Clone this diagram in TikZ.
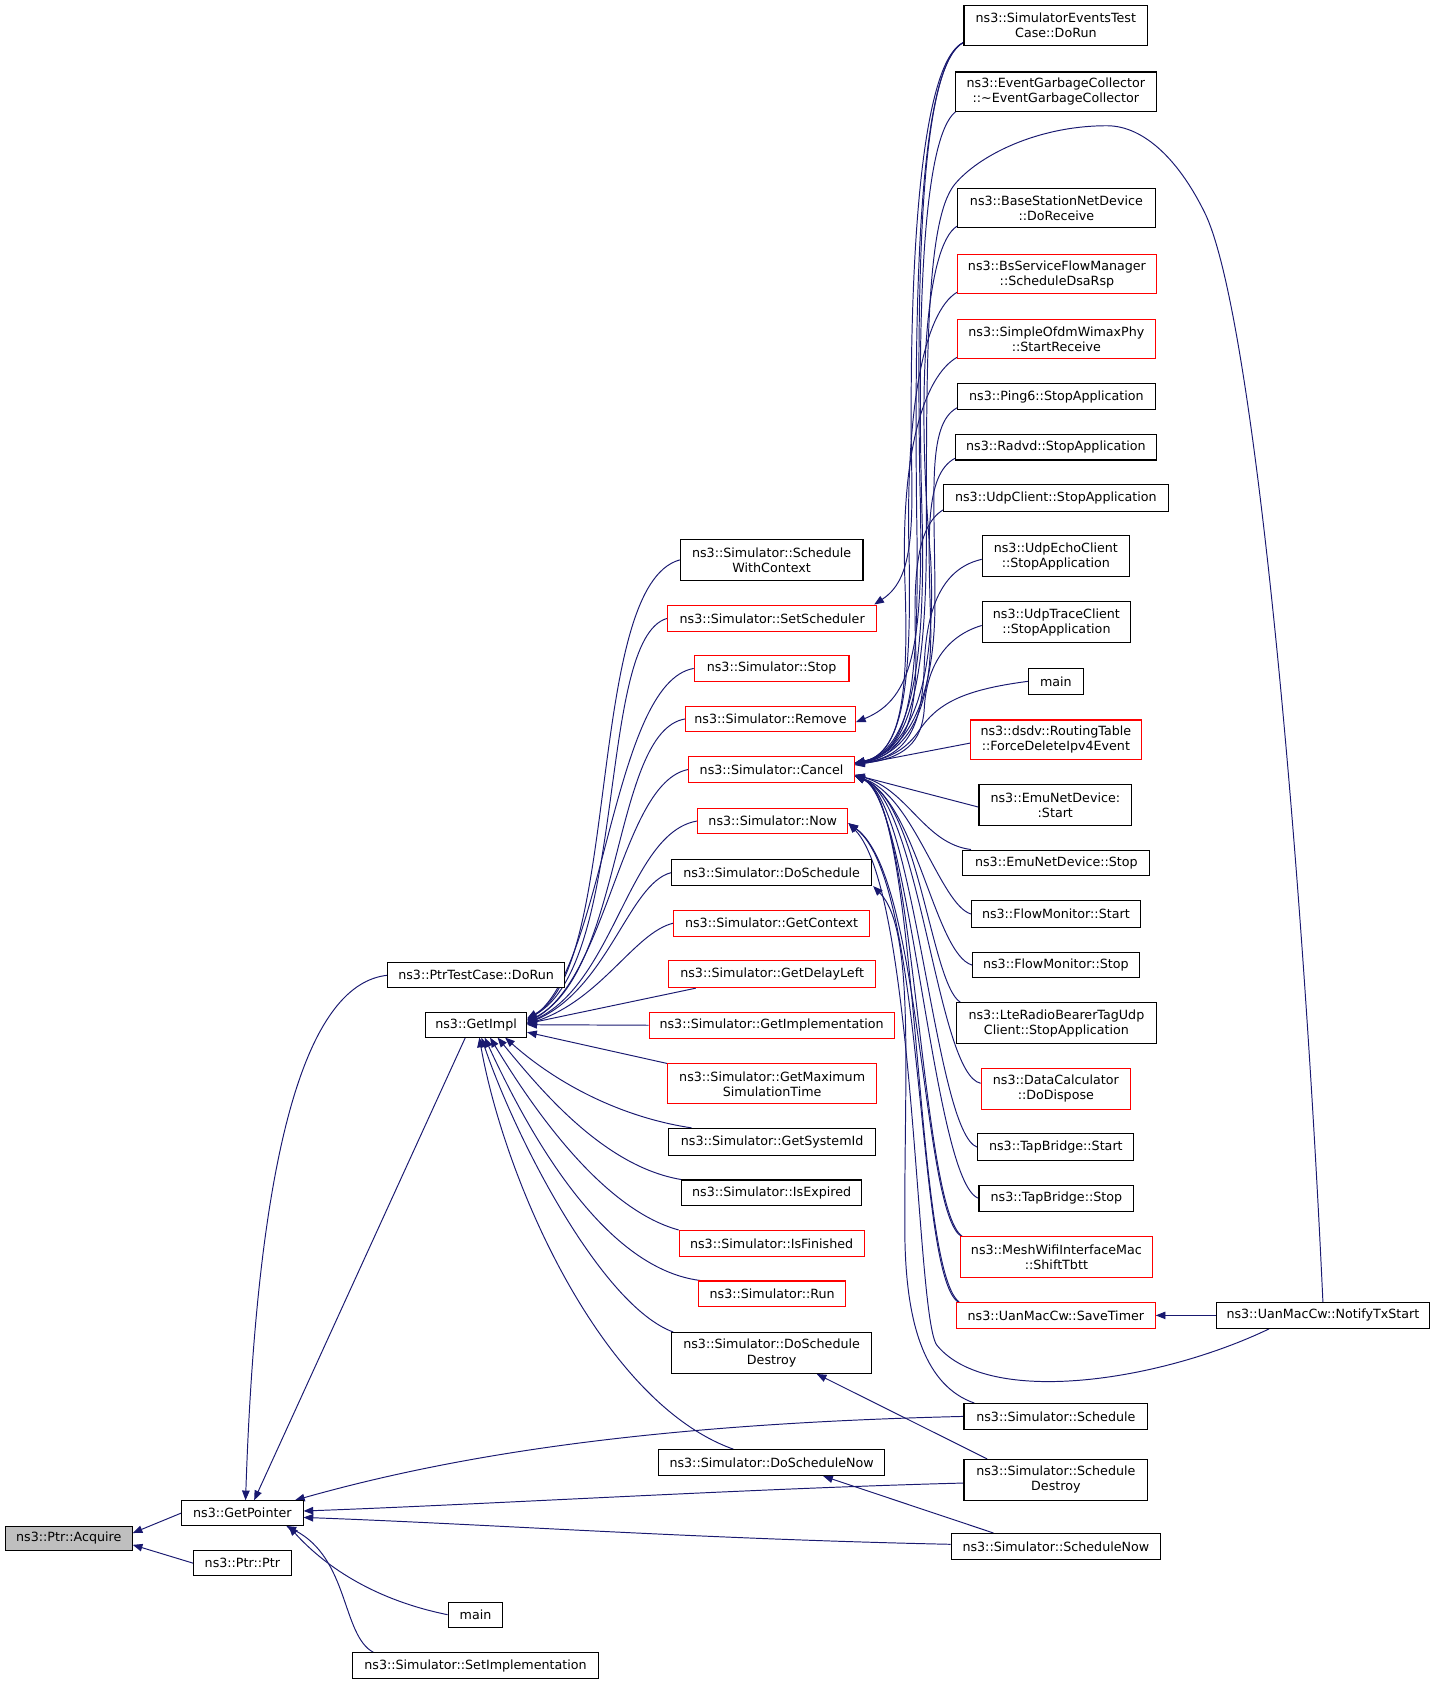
\documentclass[tikz,border=0pt]{standalone}
\usepackage{fontspec}
\setmainfont{DejaVu Sans}
\usetikzlibrary{arrows.meta,backgrounds}
\definecolor{edgeblue}{HTML}{191970}
\definecolor{boxred}{HTML}{FF0000}
\definecolor{accgray}{HTML}{BFBFBF}
\begin{document}
\begin{tikzpicture}[x=1pt,y=-1pt,
  box/.style={draw=black, line width=1pt, fill=white, inner sep=0pt, align=center,
    font=\fontsize{11.8}{14}\selectfont},
  rbox/.style={box, draw=boxred},
  e/.style={draw=edgeblue, line width=0.9pt, -{Triangle[length=9pt,width=7pt]}}]
\useasboundingbox (0,0) rectangle (1335,1567);

% ---- left
\node[box, fill=accgray, minimum width=118pt, minimum height=23pt] (acq) at (64,1431.5) {ns3::Ptr::Acquire};
\node[box, minimum width=113pt, minimum height=23pt] (gp) at (225.5,1408) {ns3::GetPointer};
\node[box, minimum width=91pt, minimum height=23pt] (ptr) at (225.5,1454.5) {ns3::Ptr::Ptr};
\node[box, minimum width=51pt, minimum height=23pt] (mainb) at (442.5,1502.5) {main};
\node[box, minimum width=229pt, minimum height=24pt] (setimpl) at (442.5,1550) {ns3::Simulator::SetImplementation};
\node[box, minimum width=164pt, minimum height=23pt] (ptrtc) at (443,907.5) {ns3::PtrTestCase::DoRun};
\node[box, minimum width=94pt, minimum height=23pt] (gi) at (443,953.5) {ns3::GetImpl};

% ---- middle
\node[box, minimum width=170pt, minimum height=38pt] (swc) at (718,521) {ns3::Simulator::Schedule\\WithContext};
\node[rbox, minimum width=195pt, minimum height=25pt] (setsch) at (718.5,575.5) {ns3::Simulator::SetScheduler};
\node[rbox, minimum width=144pt, minimum height=24pt] (stop) at (718,622) {ns3::Simulator::Stop};
\node[rbox, minimum width=158pt, minimum height=24pt] (remove) at (717,669) {ns3::Simulator::Remove};
\node[rbox, minimum width=154pt, minimum height=24pt] (cancel) at (718,716) {ns3::Simulator::Cancel};
\node[rbox, minimum width=140pt, minimum height=24pt] (now) at (719,764) {ns3::Simulator::Now};
\node[box, minimum width=186pt, minimum height=24pt] (dosch) at (718,812) {ns3::Simulator::DoSchedule};
\node[rbox, minimum width=182pt, minimum height=24pt] (getctx) at (718,859) {ns3::Simulator::GetContext};
\node[rbox, minimum width=193pt, minimum height=25pt] (getdl) at (718.5,906.5) {ns3::Simulator::GetDelayLeft};
\node[rbox, minimum width=228pt, minimum height=24pt] (getimp) at (718,954) {ns3::Simulator::GetImplementation};
\node[rbox, minimum width=195pt, minimum height=37pt] (getmax) at (718.5,1008.5) {ns3::Simulator::GetMaximum\\SimulationTime};
\node[box, minimum width=193pt, minimum height=25pt] (getsys) at (718.5,1062.5) {ns3::Simulator::GetSystemId};
\node[box, minimum width=168pt, minimum height=24pt] (isexp) at (718,1110) {ns3::Simulator::IsExpired};
\node[rbox, minimum width=172pt, minimum height=24pt] (isfin) at (718,1157) {ns3::Simulator::IsFinished};
\node[rbox, minimum width=137pt, minimum height=24pt] (run) at (718.5,1204) {ns3::Simulator::Run};
\node[box, minimum width=186pt, minimum height=38pt] (dosd) at (718,1259) {ns3::Simulator::DoSchedule\\Destroy};
\node[box, minimum width=210pt, minimum height=24pt] (dosn) at (718,1361) {ns3::Simulator::DoScheduleNow};

% ---- right
\node[box, minimum width=171pt, minimum height=37pt] (setc) at (982.5,23.5) {ns3::SimulatorEventsTest\\Case::DoRun};
\node[box, minimum width=187pt, minimum height=37pt] (egc) at (982.5,85.5) {ns3::EventGarbageCollector\\::\textasciitilde EventGarbageCollector};
\node[box, minimum width=184pt, minimum height=37pt] (bsnd) at (983,193.5) {ns3::BaseStationNetDevice\\::DoReceive};
\node[rbox, minimum width=185pt, minimum height=37pt] (bsfm) at (983.5,255) {ns3::BsServiceFlowManager\\::ScheduleDsaRsp};
\node[rbox, minimum width=184pt, minimum height=37pt] (sow) at (983,315.5) {ns3::SimpleOfdmWimaxPhy\\::StartReceive};
\node[box, minimum width=184pt, minimum height=24pt] (ping) at (983,369) {ns3::Ping6::StopApplication};
\node[box, minimum width=187pt, minimum height=24pt] (radvd) at (982.5,416) {ns3::Radvd::StopApplication};
\node[box, minimum width=209pt, minimum height=25pt] (udpc) at (982.5,463.5) {ns3::UdpClient::StopApplication};
\node[box, minimum width=137pt, minimum height=38pt] (udpe) at (982.5,517.5) {ns3::UdpEchoClient\\::StopApplication};
\node[box, minimum width=138pt, minimum height=38pt] (udpt) at (983,579) {ns3::UdpTraceClient\\::StopApplication};
\node[box, minimum width=51pt, minimum height=24pt] (mainr) at (982.5,634) {main};
\node[rbox, minimum width=159pt, minimum height=37pt] (dsdv) at (982.5,688.5) {ns3::dsdv::RoutingTable\\::ForceDeleteIpv4Event};
\node[box, minimum width=142pt, minimum height=38pt] (emus) at (982,749) {ns3::EmuNetDevice:\\:Start};
\node[box, minimum width=174pt, minimum height=24pt] (emust) at (983,803) {ns3::EmuNetDevice::Stop};
\node[box, minimum width=157pt, minimum height=25pt] (fms) at (982.5,850.5) {ns3::FlowMonitor::Start};
\node[box, minimum width=155pt, minimum height=24pt] (fmst) at (982.5,898) {ns3::FlowMonitor::Stop};
\node[box, minimum width=186pt, minimum height=38pt] (lte) at (983,952) {ns3::LteRadioBearerTagUdp\\Client::StopApplication};
\node[rbox, minimum width=139pt, minimum height=38pt] (dc) at (982.5,1013) {ns3::DataCalculator\\::DoDispose};
\node[box, minimum width=145pt, minimum height=25pt] (tbs) at (982.5,1067.5) {ns3::TapBridge::Start};
\node[box, minimum width=144pt, minimum height=24pt] (tbst) at (983,1115) {ns3::TapBridge::Stop};
\node[rbox, minimum width=178pt, minimum height=38pt] (mesh) at (983,1170) {ns3::MeshWifiInterfaceMac\\::ShiftTbtt};
\node[rbox, minimum width=185pt, minimum height=24pt] (save) at (982.5,1224) {ns3::UanMacCw::SaveTimer};
\node[box, minimum width=171pt, minimum height=24pt] (sch) at (982.5,1318) {ns3::Simulator::Schedule};
\node[box, minimum width=171pt, minimum height=38pt] (schd) at (982.5,1377) {ns3::Simulator::Schedule\\Destroy};
\node[box, minimum width=195pt, minimum height=24pt] (schn) at (982.5,1439) {ns3::Simulator::ScheduleNow};
\node[box, minimum width=198pt, minimum height=24pt] (ntx) at (1231,1224) {ns3::UanMacCw::NotifyTxStart};

\begin{pgfonlayer}{background}
% ---- into Acquire
\draw[e] (gp.west) -- ([yshift=5pt]acq.east);
\draw[e] (ptr.west) -- ([yshift=-6pt]acq.east);
% ---- into GetPointer
\draw[e] (ptrtc.west) .. controls (290,915) and (240,1050) .. ([xshift=3pt]gp.north);
\draw[e] ([xshift=-10pt]gi.south) -- ([xshift=11pt]gp.north);
\draw[e] (mainb.west) .. controls (345,1488) and (300,1455) .. ([xshift=-14pt]gp.south east);
\draw[e] ([xshift=20pt]setimpl.north west) .. controls (318,1522) and (325,1450) .. ([xshift=-16pt]gp.south east);
\draw[e] (sch.west) .. controls (600,1325) and (420,1355) .. ([xshift=-8pt]gp.north east);
\draw[e] ([yshift=-3pt]schd.west) .. controls (700,1385) and (450,1400) .. ([yshift=2pt]gp.east);
\draw[e] ([yshift=2pt]schn.west) .. controls (650,1432) and (450,1418) .. ([yshift=-4pt]gp.east);
% ---- into GetImpl (from the middle column)
\draw[e] (swc.west) .. controls (545,545) and (578,900) .. ([yshift=6pt]gi.east);
\draw[e] (setsch.west) .. controls (555,595) and (585,895) .. ([yshift=5pt]gi.east);
\draw[e] (stop.west) .. controls (570,635) and (562,900) .. ([yshift=4pt]gi.east);
\draw[e] (remove.west) .. controls (570,680) and (580,905) .. ([yshift=3pt]gi.east);
\draw[e] (cancel.west) .. controls (578,728) and (566,910) .. ([yshift=2pt]gi.east);
\draw[e] (now.west) .. controls (585,775) and (572,915) .. ([yshift=1.5pt]gi.east);
\draw[e] (dosch.west) .. controls (585,822) and (566,920) .. ([yshift=1pt]gi.east);
\draw[e] (getctx.west) .. controls (590,868) and (560,930) .. ([yshift=0.5pt]gi.east);
\draw[e] ([xshift=26pt]getdl.south west) -- ([yshift=1pt]gi.east);
\draw[e] (getimp.west) -- (gi.east);
\draw[e] (getmax.north west) -- ([yshift=-7pt]gi.east);
\draw[e] ([xshift=22pt]getsys.north west) .. controls (580,1040) and (520,1010) .. ([xshift=27pt]gi.south);
\draw[e] (isexp.north west) .. controls (560,1085) and (500,1010) .. ([xshift=20pt]gi.south);
\draw[e] (isfin.north west) .. controls (560,1125) and (495,1030) .. ([xshift=13pt]gi.south);
\draw[e] ([xshift=2pt]run.north west) .. controls (560,1180) and (490,1050) .. ([xshift=8pt]gi.south);
\draw[e] ([xshift=2pt]dosd.north west) .. controls (560,1215) and (480,1060) .. ([xshift=5pt]gi.south);
\draw[e] ([xshift=70pt]dosn.north west) .. controls (560,1305) and (470,1100) .. ([xshift=3pt]gi.south);
% ---- into DoSchedule / DoScheduleDestroy / DoScheduleNow
\draw[e] ([xshift=10pt]sch.north west) .. controls (862,1290) and (843,1235) .. (842,1150)
   .. controls (841,1000) and (852,865) .. ([xshift=1pt]dosch.south east);
\draw[e] ([xshift=22pt]schd.north west) -- ([xshift=42pt]dosd.south);
\draw[e] ([xshift=-58pt]schn.north) -- ([xshift=48pt]dosn.south);
% ---- SimulatorEventsTestCase
\draw[e] ([yshift=3pt]setc.south west) .. controls (862,55) and (846,200) .. (848,420)
   .. controls (850,500) and (848,540) .. ([xshift=-3pt]setsch.north east);
\draw[e] ([yshift=3pt]setc.south west) .. controls (860,58) and (852,220) .. (856,450)
   .. controls (860,600) and (850,650) .. ([yshift=-3pt]remove.east);
\draw[e] ([yshift=3pt]setc.south west) .. controls (858,60) and (850,240) .. (853,480)
   .. controls (856,650) and (845,700) .. ([yshift=6pt]cancel.east);
% ---- into Cancel from above
\draw[e] ([xshift=3pt,yshift=2pt]egc.south west) .. controls (862,118) and (852,260) .. (858,480)
   .. controls (862,640) and (842,700) .. ([yshift=6pt]cancel.east);
\draw[e] (ntx.north) .. controls (1212,800) and (1168,300) .. (1122,200)
   .. controls (1098,150) and (1065,117) .. (1030,117)
   .. controls (965,117) and (910,145) .. (888,172)
   .. controls (862,205) and (862,330) .. (862,500)
   .. controls (862,650) and (842,702) .. ([yshift=6pt]cancel.east);
\draw[e] ([yshift=2pt]bsnd.south west) .. controls (862,228) and (852,360) .. (866,520)
   .. controls (872,640) and (845,700) .. ([yshift=6pt]cancel.east);
\draw[e] ([yshift=2pt]bsfm.south west) .. controls (860,290) and (842,380) .. (846,520)
   .. controls (848,640) and (840,700) .. ([yshift=5pt]cancel.east);
\draw[e] ([yshift=2pt]sow.south west) .. controls (860,350) and (838,420) .. (842,540)
   .. controls (846,650) and (838,700) .. ([yshift=5pt]cancel.east);
\draw[e] ([yshift=2pt]ping.south west) .. controls (862,395) and (870,460) .. (870,560)
   .. controls (870,650) and (845,700) .. ([yshift=6pt]cancel.east);
\draw[e] ([yshift=2pt]radvd.south west) .. controls (860,442) and (864,500) .. (866,580)
   .. controls (868,660) and (845,702) .. ([yshift=6pt]cancel.east);
\draw[e] ([yshift=2pt]udpc.south west) .. controls (852,490) and (850,540) .. (852,600)
   .. controls (854,670) and (842,702) .. ([yshift=5pt]cancel.east);
\draw[e] ([yshift=-3pt]udpe.west) .. controls (880,528) and (862,560) .. (860,620)
   .. controls (858,680) and (842,704) .. ([yshift=5pt]cancel.east);
\draw[e] ([yshift=-3pt]udpt.west) .. controls (880,592) and (862,620) .. (860,660)
   .. controls (858,690) and (842,706) .. ([yshift=5pt]cancel.east);
\draw[e] (mainr.west) .. controls (895,642) and (872,655) .. (855,680)
   .. controls (845,695) and (830,706) .. ([yshift=5pt]cancel.east);
\draw[e] ([yshift=-3pt]dsdv.west) -- ([yshift=4pt]cancel.east);
% ---- into Cancel from below
\draw[e] ([yshift=-2pt]emus.west) -- ([yshift=-5pt]cancel.east);
\draw[e] ([xshift=8pt]emust.north west) .. controls (860,785) and (845,735) .. ([yshift=-5pt]cancel.east);
\draw[e] (fms.west) .. controls (875,842) and (850,740) .. ([yshift=-6pt]cancel.east);
\draw[e] (fmst.west) .. controls (870,888) and (852,745) .. ([yshift=-6pt]cancel.east);
\draw[e] ([xshift=4pt]lte.north west) .. controls (866,915) and (855,745) .. ([yshift=-6pt]cancel.east);
\draw[e] ([yshift=5pt]dc.west) .. controls (872,1000) and (856,745) .. ([yshift=-6pt]cancel.east);
\draw[e] (tbs.west) .. controls (870,1055) and (852,745) .. ([yshift=-6pt]cancel.east);
\draw[e] (tbst.west) .. controls (868,1100) and (848,745) .. ([yshift=-6pt]cancel.east);
\draw[e] ([xshift=2pt]mesh.north west) .. controls (856,1125) and (852,745) .. ([yshift=-6pt]cancel.east);
\draw[e] ([xshift=3pt]save.north west) .. controls (850,1180) and (856,745) .. ([yshift=-6pt]cancel.east);
% ---- into Now
\draw[e] ([xshift=1pt]mesh.north west) .. controls (858,1128) and (858,815) .. ([yshift=-2pt]now.east);
\draw[e] ([xshift=2pt]save.north west) .. controls (852,1185) and (862,820) .. ([yshift=-2pt]now.east);
\draw[e] ([xshift=-50pt]ntx.south) .. controls (1080,1285) and (920,1310) .. (872,1252)
   .. controls (852,1228) and (852,830) .. ([yshift=-2pt]now.east);
% ---- into SaveTimer
\draw[e] (ntx.west) -- (save.east);
\end{pgfonlayer}
\end{tikzpicture}
\end{document}
